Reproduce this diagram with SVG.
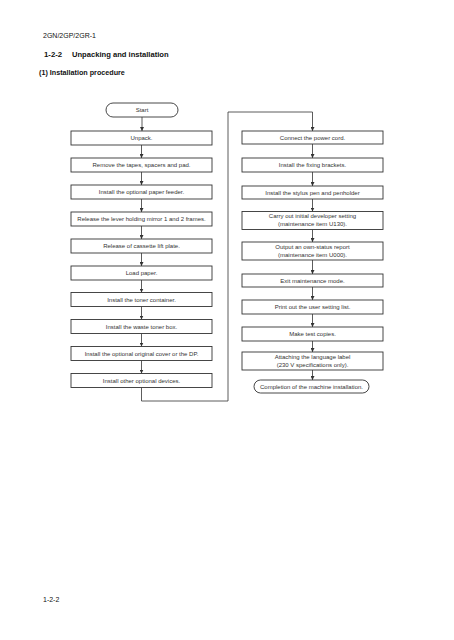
<svg xmlns="http://www.w3.org/2000/svg" width="454" height="640" viewBox="0 0 454 640">
<style>
.bg{fill:#fff}
.box{fill:#fff;stroke:#333;stroke-width:0.9}
.t{font-family:"Liberation Sans",Arial,sans-serif;font-size:6px;fill:#333;text-anchor:middle}
.h{font-family:"Liberation Sans",Arial,sans-serif;fill:#111}
.c{fill:none;stroke:#333;stroke-width:0.8}
</style>
<defs>
<marker id="ah" markerUnits="userSpaceOnUse" markerWidth="4" markerHeight="4" refX="4" refY="2" orient="auto">
<path d="M0,0 L4,2 L0,4 z" fill="#333"/>
</marker>
</defs>
<rect class="bg" x="0" y="0" width="454" height="640"/>
<text class="h" x="43" y="38" font-size="7">2GN/2GP/2GR-1</text>
<text class="h" x="44" y="57" font-size="7.8" font-weight="bold">1-2-2</text>
<text class="h" x="72" y="57" font-size="7.6" font-weight="bold">Unpacking and installation</text>
<text class="h" x="39" y="75" font-size="7.2" font-weight="bold">(1) Installation procedure</text>
<text class="h" x="43" y="602" font-size="7">1-2-2</text>

<g id="connectors">
<path class="c" d="M142,117 V131" marker-end="url(#ah)"/>
<path class="c" d="M141.5,145 V158" marker-end="url(#ah)"/>
<path class="c" d="M141.5,172 V185" marker-end="url(#ah)"/>
<path class="c" d="M141.5,199 V212" marker-end="url(#ah)"/>
<path class="c" d="M141.5,226 V239" marker-end="url(#ah)"/>
<path class="c" d="M141.5,253 V266" marker-end="url(#ah)"/>
<path class="c" d="M141.5,280 V292.5" marker-end="url(#ah)"/>
<path class="c" d="M141.5,306.5 V319.5" marker-end="url(#ah)"/>
<path class="c" d="M141.5,333.5 V346.5" marker-end="url(#ah)"/>
<path class="c" d="M141.5,360.5 V373.5" marker-end="url(#ah)"/>
<path class="c" d="M141.5,387.5 V401 H228 V112 H312.5 V131" marker-end="url(#ah)"/>
<path class="c" d="M312.5,144 V158" marker-end="url(#ah)"/>
<path class="c" d="M312.5,172 V186" marker-end="url(#ah)"/>
<path class="c" d="M312.5,199 V211.5" marker-end="url(#ah)"/>
<path class="c" d="M312.5,229.5 V242" marker-end="url(#ah)"/>
<path class="c" d="M312.5,260 V274" marker-end="url(#ah)"/>
<path class="c" d="M312.5,287 V300" marker-end="url(#ah)"/>
<path class="c" d="M312.5,314 V327" marker-end="url(#ah)"/>
<path class="c" d="M312.5,341 V352" marker-end="url(#ah)"/>
<path class="c" d="M312.5,370 V380" marker-end="url(#ah)"/>
</g>

<g id="start"><rect class="box" x="106" y="103" width="72" height="14" rx="7"/><text class="t" x="142" y="112">Start</text></g>
<g id="unpack"><rect class="box" x="71" y="131" width="141" height="14"/><text class="t" x="141.5" y="140">Unpack.</text></g>
<g id="remove"><rect class="box" x="71" y="158" width="141" height="14"/><text class="t" x="141.5" y="167">Remove the tapes, spacers and pad.</text></g>
<g id="feeder"><rect class="box" x="71" y="185" width="141" height="14"/><text class="t" x="141.5" y="194">Install the optional paper feeder.</text></g>
<g id="lever"><rect class="box" x="71" y="212" width="141" height="14"/><text class="t" x="141.5" y="221">Release the lever holding mirror 1 and 2 frames.</text></g>
<g id="cassette"><rect class="box" x="71" y="239" width="141" height="14"/><text class="t" x="141.5" y="248">Release of cassette lift plate.</text></g>
<g id="load"><rect class="box" x="71" y="266" width="141" height="14"/><text class="t" x="141.5" y="275">Load paper.</text></g>
<g id="toner"><rect class="box" x="71" y="292.5" width="141" height="14"/><text class="t" x="141.5" y="301.5">Install the toner container.</text></g>
<g id="waste"><rect class="box" x="71" y="319.5" width="141" height="14"/><text class="t" x="141.5" y="328.5">Install the waste toner box.</text></g>
<g id="cover"><rect class="box" x="71" y="346.5" width="141" height="14"/><text class="t" x="141.5" y="355.5">Install the optional original cover or the DP.</text></g>
<g id="other"><rect class="box" x="71" y="373.5" width="141" height="14"/><text class="t" x="141.5" y="382.5">Install other optional devices.</text></g>

<g id="power"><rect class="box" x="242" y="131" width="141" height="13"/><text class="t" x="312.5" y="139.5">Connect the power cord.</text></g>
<g id="brackets"><rect class="box" x="242" y="158" width="141" height="14"/><text class="t" x="312.5" y="167">Install the fixing brackets.</text></g>
<g id="stylus"><rect class="box" x="242" y="186" width="141" height="13"/><text class="t" x="312.5" y="194.5">Install the stylus pen and penholder</text></g>
<g id="developer"><rect class="box" x="242" y="211.5" width="141" height="18"/><text class="t" x="312.5" y="218.2">Carry out initial developer setting</text><text class="t" x="312.5" y="226">(maintenance item U130).</text></g>
<g id="report"><rect class="box" x="242" y="242" width="141" height="18"/><text class="t" x="312.5" y="248.7">Output an own-status report</text><text class="t" x="312.5" y="256.5">(maintenance item U000).</text></g>
<g id="exit"><rect class="box" x="242" y="274" width="141" height="13"/><text class="t" x="312.5" y="282.5">Exit maintenance mode.</text></g>
<g id="print"><rect class="box" x="242" y="300" width="141" height="14"/><text class="t" x="312.5" y="309">Print out the user setting list.</text></g>
<g id="test"><rect class="box" x="242" y="327" width="141" height="14"/><text class="t" x="312.5" y="336">Make test copies.</text></g>
<g id="label"><rect class="box" x="242" y="352" width="141" height="18"/><text class="t" x="312.5" y="358.7">Attaching the language label</text><text class="t" x="312.5" y="366.5">(230 V specifications only).</text></g>
<g id="completion"><rect class="box" x="254" y="380" width="115" height="13" rx="6.5"/><text class="t" x="311.5" y="388.5">Completion of the machine installation.</text></g>
</svg>
